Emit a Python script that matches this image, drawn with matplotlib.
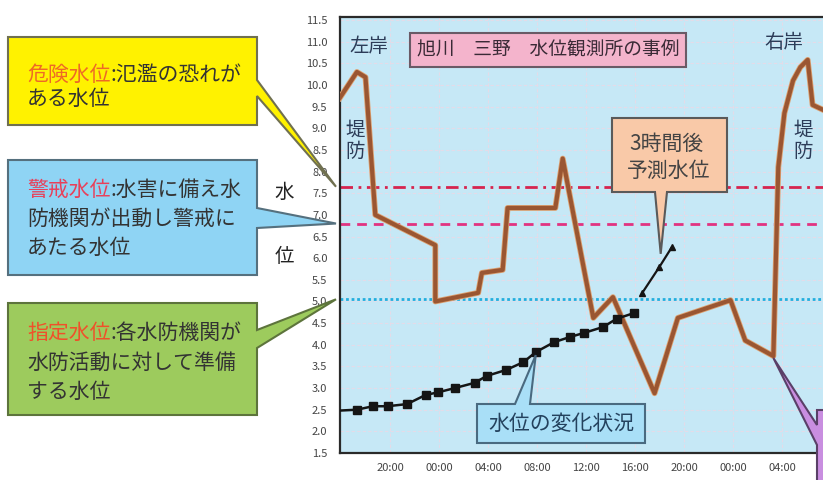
import numpy as np
import matplotlib.pyplot as plt
import matplotlib.patheffects as pe
from matplotlib.patches import Polygon

plt.rcParams['font.family'] = ['Noto Sans CJK JP', 'DejaVu Sans']

# %%
# time axis in hours (20 = 20:00 of the first day)
tick_hours = [20, 24, 28, 32, 36, 40, 44, 48, 52]
tick_labels = ['20:00', '00:00', '04:00', '08:00', '12:00',
               '16:00', '20:00', '00:00', '04:00']
level_ticks = np.arange(1.5, 11.51, 0.5)

# observed water level (水位の変化状況)
obs_hours = [15.9, 17.3, 18.6, 19.8, 21.4, 22.9, 23.9, 25.3, 26.9, 27.9,
             29.5, 30.9, 31.9, 33.4, 34.7, 35.8, 37.4, 38.5, 39.9]
obs_level = [2.48, 2.5, 2.58, 2.58, 2.63, 2.84, 2.9, 3.0, 3.12, 3.28,
             3.42, 3.6, 3.83, 4.06, 4.18, 4.27, 4.41, 4.6, 4.73]

# 3 hour forecast
fc_hours = [40.6, 42.0, 43.0]
fc_level = [5.2, 5.8, 6.25]

# river cross section (left bank -> right bank)
bank_x = [15.9, 17.3, 18.0, 18.8, 23.7, 23.7, 27.2, 27.5, 29.2, 29.6,
          33.5, 34.1, 36.6, 38.2, 41.6, 43.5, 47.8, 49.0, 51.3, 51.7,
          52.2, 52.9, 53.5, 54.1, 54.5, 55.4]
bank_y = [9.7, 10.3, 10.18, 7.0, 6.3, 5.0, 5.2, 5.66, 5.73, 7.16,
          7.16, 8.3, 4.62, 5.1, 2.88, 4.62, 5.03, 4.1, 3.74, 8.1,
          9.35, 10.1, 10.41, 10.58, 9.54, 9.42]

danger_level = 7.65
warning_level = 6.8
standby_level = 5.05

# %%
fig = plt.figure(figsize=(8.23, 4.8), dpi=100)
ax = fig.add_axes([340 / 823, 1 - 453 / 480, 483 / 823, 436 / 480])
ax.set_facecolor('#c6e8f6')
ax.set_xlim(15.92, 55.35)
ax.set_ylim(1.5, 11.57)

ax.set_yticks(level_ticks, [f'{v:.1f}' for v in level_ticks])
ax.set_xticks(tick_hours, tick_labels)
ax.tick_params(axis='both', length=0, labelsize=8, colors='#444444')
ax.tick_params(axis='y', pad=9)
ax.tick_params(axis='x', pad=7)
ax.grid(True, color='#e4dbe8', lw=0.8, ls=(0, (3, 2)))
for s in ['left', 'bottom', 'top']:
    ax.spines[s].set_color('#2a2a2a')
    ax.spines[s].set_linewidth(1.6)
ax.spines['right'].set_visible(False)

ax.axhline(danger_level, color='#d6244e', lw=2, ls=(0, (4.5, 2, 1, 2)), zorder=2)
ax.axhline(warning_level, color='#e23380', lw=2, ls=(0, (3.5, 2.5)), zorder=2)
ax.axhline(standby_level, color='#22aede', lw=2, ls=(0, (1, 1)), zorder=2)

ax.plot(bank_x, bank_y, color='#9a5632', lw=3, zorder=3,
        path_effects=[pe.Stroke(linewidth=4.2, foreground='#dca070'), pe.Normal()])
ax.plot(obs_hours, obs_level, color='#151515', lw=1.8, marker='s', ms=5.5,
        markevery=range(1, len(obs_hours)), zorder=4)
ax.plot(fc_hours, fc_level, color='#151515', lw=1.6, marker='^', ms=4, zorder=4)

# %%
# overlay in pixel coords for the callouts
ov = fig.add_axes([0, 0, 1, 1], zorder=5)
ov.set_xlim(0, 823)
ov.set_ylim(480, 0)
ov.set_axis_off()
ov.patch.set_alpha(0)


def to_px(x, y):
    return ov.transData.inverted().transform(ax.transData.transform((x, y)))


def bubble(x0, y0, x1, y1, side, b0, b1, tip, fc, ec):
    if side == 'right':
        pts = [(x0, y0), (x1, y0), (x1, b0), tip, (x1, b1), (x1, y1), (x0, y1)]
    elif side == 'left':
        pts = [(x0, y0), (x1, y0), (x1, y1), (x0, y1), (x0, b1), tip, (x0, b0)]
    elif side == 'bottom':
        pts = [(x0, y0), (x1, y0), (x1, y1), (b1, y1), tip, (b0, y1), (x0, y1)]
    else:
        pts = [(x0, y0), (b0, y0), tip, (b1, y0), (x1, y0), (x1, y1), (x0, y1)]
    ov.add_patch(Polygon(pts, closed=True, fc=fc, ec=ec, lw=1.5, joinstyle='miter'))


def two_color(x, y, head, rest, head_color, size=15):
    t = ov.text(x, y, head, color=head_color, fontsize=size, va='center', ha='left')
    ov.annotate(rest, xy=(1, 0.5), xycoords=t, va='center', ha='left',
                color='#333333', fontsize=size)


xl = ax.get_xlim()[0]
tip = to_px(xl, danger_level)
bubble(8, 37, 257, 125, 'right', 80, 96, (tip[0] - 4, tip[1]), '#fff200', '#707050')
two_color(27, 75, '危険水位', ':氾濫の恐れが', '#ee6a26')
ov.text(27, 99, 'ある水位', fontsize=15, color='#333333', va='center')

tip = to_px(xl, warning_level)
bubble(8, 160, 257, 275, 'right', 208, 228, (tip[0] - 4, tip[1]), '#8fd4f4', '#55707e')
two_color(27, 190, '警戒水位', ':水害に備え水', '#e8405a')
ov.text(27, 219, '防機関が出動し警戒に', fontsize=15, color='#333333', va='center')
ov.text(27, 248, 'あたる水位', fontsize=15, color='#333333', va='center')

tip = to_px(xl, standby_level)
bubble(8, 303, 257, 415, 'right', 330, 348, (tip[0] - 4, tip[1]), '#9dcb5d', '#5d743c')
two_color(27, 333, '指定水位', ':各水防機関が', '#f0502a')
ov.text(27, 363, '水防活動に対して準備', fontsize=15, color='#333333', va='center')
ov.text(27, 392, 'する水位', fontsize=15, color='#333333', va='center')

ov.text(284, 192, '水', fontsize=14, color='#222222', ha='center', va='center')
ov.text(284, 257, '位', fontsize=14, color='#222222', ha='center', va='center')

# title box
ov.add_patch(Polygon([(410, 33), (686, 33), (686, 67), (410, 67)], closed=True,
                     fc='#f4b4cc', ec='#6a5a66', lw=1.5))
ov.text(548, 50, '旭川　三野　水位観測所の事例', fontsize=13.5, color='#3a2a36',
        ha='center', va='center')

bank_col = '#2c3c58'
ov.text(369, 47, '左岸', fontsize=14, color=bank_col, ha='center', va='center')
ov.text(784, 43, '右岸', fontsize=14, color=bank_col, ha='center', va='center')
ov.text(355, 141, '堤\n防', fontsize=14, color=bank_col, ha='center', va='center',
        linespacing=1.05)
ov.text(803, 141, '堤\n防', fontsize=14, color=bank_col, ha='center', va='center',
        linespacing=1.05)

# forecast callout
fx, fy = to_px(42.1, 6.1)
bubble(612, 118, 727, 192, 'bottom', 655, 667, (fx, fy), '#f9c9a8', '#5a5a5a')
ov.text(666, 144, '3時間後', fontsize=15, color='#444444', ha='center', va='center')
ov.text(669, 171, '予測水位', fontsize=15, color='#444444', ha='center', va='center')

# observed level callout
ox, oy = to_px(obs_hours[12], obs_level[12])
bubble(477, 404, 645, 443, 'top', 515, 530, (ox, oy + 3), '#a9dff7', '#4a6a80')
ov.text(561, 424, '水位の変化状況', fontsize=15, color='#24425e', ha='center', va='center')

# purple callout at the right bank toe (cut off in the original)
px, py = to_px(bank_x[18], bank_y[18])
bubble(817, 410, 830, 490, 'left', 425, 445, (px, py + 2), '#c98ee0', '#5a4068')

fig.savefig('out.png', dpi=100)
